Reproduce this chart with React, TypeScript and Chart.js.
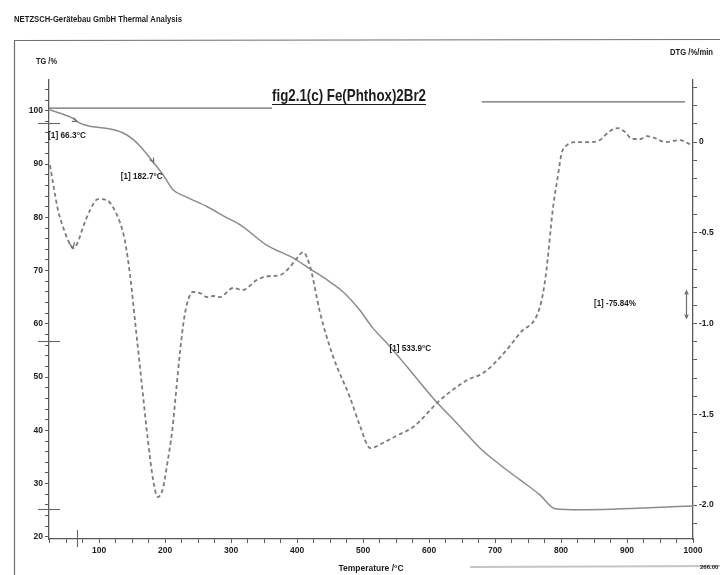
import React, { useEffect, useRef } from 'react';
import { Chart, registerables } from 'chart.js';

Chart.register(...registerables);

// ---- data ----
const tgTemperatures = [25, 59, 71, 83, 117, 136, 152, 167, 182, 197, 212, 233, 264, 294, 314, 354, 394, 420, 445, 470, 495, 515, 536, 567, 606, 647, 677, 708, 738, 768, 791, 829, 1000];
const tgValues = [100.2, 98.7, 97.7, 97.2, 96.6, 95.9, 94.6, 92.7, 90.4, 88.0, 85.2, 83.8, 82.0, 79.9, 78.6, 74.8, 72.4, 70.3, 68.3, 66.0, 62.6, 59.2, 56.4, 51.9, 46.1, 40.7, 36.7, 33.5, 30.7, 27.9, 25.3, 25.1, 25.8];

const dtgTemperatures = [25.8, 30.3, 37.9, 45.5, 53, 60.6, 68, 75.8, 86.4, 98.5, 112, 121, 132, 139, 147, 156, 165, 174, 182, 189, 197, 203, 211, 217, 223, 229, 235, 242, 253, 264, 273, 283, 303, 318, 339, 359, 374, 389, 400, 409, 420, 435, 455, 480, 495, 511, 530, 553, 576, 617, 658, 682, 708, 738, 768, 777, 788, 795, 801, 809, 824, 844, 859, 874, 886, 897, 908, 920, 930, 942, 958, 970, 980, 992, 998];
const dtgValues = [-0.127, -0.226, -0.375, -0.468, -0.54, -0.584, -0.551, -0.468, -0.375, -0.314, -0.32, -0.358, -0.446, -0.54, -0.733, -1.036, -1.339, -1.642, -1.862, -1.956, -1.906, -1.78, -1.587, -1.366, -1.146, -0.97, -0.87, -0.826, -0.832, -0.854, -0.848, -0.854, -0.804, -0.815, -0.76, -0.738, -0.733, -0.689, -0.639, -0.606, -0.689, -0.942, -1.185, -1.405, -1.559, -1.686, -1.658, -1.614, -1.57, -1.421, -1.311, -1.273, -1.185, -1.052, -0.909, -0.733, -0.358, -0.193, -0.061, -0.017, 0, 0, 0.011, 0.061, 0.077, 0.055, 0.017, 0.017, 0.033, 0.022, 0, 0.006, 0.011, -0.006, -0.017];

// horizontal reference lines (TG axis)
const refLineATemps = [24.2, 362];
const refLineAValues = [100.5, 100.5];
const refLineBTemps = [680, 988];
const refLineBValues = [101.7, 101.7];

// axes
const tempMajorTicks = [100, 200, 300, 400, 500, 600, 700, 800, 900, 1000];
const tempMinorTicks = [25, 50, 75, 125, 150, 175, 225, 250, 275, 325, 350, 375, 425, 450, 475, 525, 550, 575, 625, 650, 675, 725, 750, 775, 825, 850, 875, 925, 950, 975];
const tgMajorTicks = [20, 30, 40, 50, 60, 70, 80, 90, 100];
const tgMinorTicks = [22, 24, 26, 28, 32, 34, 36, 38, 42, 44, 46, 48, 52, 54, 56, 58, 62, 64, 66, 68, 72, 74, 76, 78, 82, 84, 86, 88, 92, 94, 96, 98, 102, 104];
const dtgMajorTicks = [0, -0.5, -1.0, -1.5, -2.0];
const dtgMajorLabels = ['0', '-0.5', '-1.0', '-1.5', '-2.0'];
const dtgMinorTicks = [0.3, 0.2, 0.1, -0.1, -0.2, -0.3, -0.4, -0.6, -0.7, -0.8, -0.9, -1.1, -1.2, -1.3, -1.4, -1.6, -1.7, -1.8, -1.9, -2.1];

// step markers and annotations
const tgStepMarkers = [97.7, 56.8, 25.3];
const tempStepMarker = 66.3;
const annotationTexts = ['[1] 66.3°C', '[1] 182.7°C', '[1] 533.9°C', '[1] -75.84%'];
const annotationTemps = [22.7, 133, 540, 850];
const annotationTG = [95.3, 87.7, 55.3, 0];
const annotationDTG = [0, 0, 0, -0.89];

const FONT_FAMILY = '"Liberation Sans", Arial, "DejaVu Sans", sans-serif';
const TEXT = '#1c1c1c';
const AXIS = '#5a5a5a';

const near = (a: number, b: number) => Math.abs(a - b) < 1e-6;

const overlayPlugin = {
  id: 'overlay',
  afterDraw(chart: any) {
    const ctx: CanvasRenderingContext2D = chart.ctx;
    const xs = chart.scales.x;
    const yl = chart.scales.yTG;
    const yr = chart.scales.yDTG;
    ctx.save();
    const txt = (t: string, px: number, py: number, size: number, maxW: number, weight = 'bold', align: CanvasTextAlign = 'left') => {
      ctx.font = `${weight} ${size}px ${FONT_FAMILY}`;
      ctx.fillStyle = TEXT;
      ctx.textAlign = align;
      ctx.textBaseline = 'middle';
      ctx.fillText(t, px, py, maxW);
    };

    // frame
    ctx.strokeStyle = '#707070';
    ctx.lineWidth = 1.2;
    ctx.beginPath();
    ctx.moveTo(14, 40.5);
    ctx.lineTo(720, 39.5);
    ctx.moveTo(14.5, 40);
    ctx.lineTo(14.5, 575);
    ctx.stroke();
    ctx.strokeStyle = '#c4c4c4';
    ctx.lineWidth = 2;
    ctx.beginPath();
    ctx.moveTo(470, 567);
    ctx.lineTo(720, 566);
    ctx.stroke();

    // header and axis captions
    txt('NETZSCH-Gerätebau GmbH Thermal Analysis', 14, 20, 8.5, 168);
    txt('TG /%', 36, 62, 8.5, 21);
    txt('DTG /%/min', 670, 53, 8.5, 43);
    txt('266.00', 700, 567, 6, 24);

    // title (underlined)
    ctx.font = `bold 17px ${FONT_FAMILY}`;
    ctx.fillStyle = TEXT;
    ctx.textAlign = 'left';
    ctx.textBaseline = 'alphabetic';
    ctx.fillText('fig2.1(c) Fe(Phthox)2Br2', 272, 101, 154);
    ctx.strokeStyle = TEXT;
    ctx.lineWidth = 1.2;
    ctx.beginPath();
    ctx.moveTo(272, 104.5);
    ctx.lineTo(426, 104.5);
    ctx.stroke();

    // annotations
    annotationTexts.forEach((t, i) => {
      const px = xs.getPixelForValue(annotationTemps[i]);
      const py = annotationDTG[i] !== 0 ? yr.getPixelForValue(annotationDTG[i]) : yl.getPixelForValue(annotationTG[i]);
      txt(t, px, py, 8.5, t.length * 3.8);
    });

    // step markers on the TG axis
    ctx.strokeStyle = '#666';
    ctx.lineWidth = 1.1;
    tgStepMarkers.forEach((v) => {
      const py = Math.round(yl.getPixelForValue(v)) + 0.5;
      ctx.beginPath();
      ctx.moveTo(38, py);
      ctx.lineTo(60, py);
      ctx.stroke();
    });
    const mx = Math.round(xs.getPixelForValue(tempStepMarker)) + 0.5;
    ctx.beginPath();
    ctx.moveTo(mx, xs.top - 9);
    ctx.lineTo(mx, xs.top + 8);
    ctx.stroke();

    // arrowheads on TG at step temperatures
    const arrowHead = (px: number, py: number, dx: number, dy: number, len: number) => {
      const a = Math.atan2(dy, dx);
      ctx.beginPath();
      ctx.moveTo(px - len * Math.cos(a - 0.45), py - len * Math.sin(a - 0.45));
      ctx.lineTo(px, py);
      ctx.lineTo(px - len * Math.cos(a + 0.45), py - len * Math.sin(a + 0.45));
      ctx.stroke();
    };
    ctx.strokeStyle = '#707070';
    ctx.lineWidth = 1.2;
    arrowHead(xs.getPixelForValue(66.3), yl.getPixelForValue(98.0), 8, 4, 5);
    arrowHead(xs.getPixelForValue(182.7), yl.getPixelForValue(90.3), 1, 2, 5);
    arrowHead(xs.getPixelForValue(60.6), yr.getPixelForValue(-0.584), 0.2, 1, 6);

    // double arrow near the right axis
    const ax = Math.round(xs.getPixelForValue(989)) + 0.5;
    const ay1 = yr.getPixelForValue(-0.82);
    const ay2 = yr.getPixelForValue(-0.97);
    ctx.beginPath();
    ctx.moveTo(ax, ay1);
    ctx.lineTo(ax, ay2);
    ctx.stroke();
    arrowHead(ax, ay1, 0, -1, 4);
    arrowHead(ax, ay2, 0, 1, 4);

    ctx.restore();
  },
};

const tickFont = { family: FONT_FAMILY, size: 8.5, weight: 'bold' as const };

export default function App() {
  const canvasRef = useRef<HTMLCanvasElement | null>(null);

  useEffect(() => {
    document.body.style.margin = '0';
    const canvas = canvasRef.current;
    if (!canvas) return;

    const chart = new Chart(canvas, {
      type: 'line',
      data: {
        datasets: [
          {
            label: 'DTG',
            data: dtgTemperatures.map((t, i) => ({ x: t, y: dtgValues[i] })),
            yAxisID: 'yDTG',
            borderColor: '#7c7c7c',
            borderWidth: 1.8,
            borderDash: [4, 3],
            pointRadius: 0,
            cubicInterpolationMode: 'monotone',
            fill: false,
          },
          {
            label: 'TG',
            data: tgTemperatures.map((t, i) => ({ x: t, y: tgValues[i] })),
            yAxisID: 'yTG',
            borderColor: '#8c8c8c',
            borderWidth: 1.5,
            pointRadius: 0,
            cubicInterpolationMode: 'monotone',
            fill: false,
          },
          {
            label: 'refA',
            data: refLineATemps.map((t, i) => ({ x: t, y: refLineAValues[i] })),
            yAxisID: 'yTG',
            borderColor: '#6a6a6a',
            borderWidth: 1.3,
            pointRadius: 0,
            fill: false,
          },
          {
            label: 'refB',
            data: refLineBTemps.map((t, i) => ({ x: t, y: refLineBValues[i] })),
            yAxisID: 'yTG',
            borderColor: '#6a6a6a',
            borderWidth: 1.3,
            pointRadius: 0,
            fill: false,
          },
        ],
      },
      options: {
        responsive: false,
        animation: false,
        layout: { padding: { top: 80, left: 0, right: 0, bottom: 0 } },
        plugins: { legend: { display: false }, tooltip: { enabled: false }, title: { display: false } },
        scales: {
          x: {
            type: 'linear',
            min: 24.2,
            max: 1000,
            afterBuildTicks: (s: any) => {
              s.ticks = [...tempMinorTicks, ...tempMajorTicks].sort((a, b) => a - b).map((v) => ({ value: v }));
            },
            afterFit: (s: any) => {
              s.height = 36;
            },
            ticks: {
              autoSkip: false,
              maxRotation: 0,
              padding: 3,
              color: TEXT,
              font: tickFont,
              callback: (v: any) => (tempMajorTicks.some((m) => near(m, v)) ? String(v) : ''),
            },
            grid: { drawOnChartArea: false, tickLength: 4, tickColor: AXIS },
            border: { color: AXIS, width: 1.3 },
            title: {
              display: true,
              text: 'Temperature /°C',
              color: TEXT,
              font: { family: FONT_FAMILY, size: 8.5, weight: 'bold' },
              padding: { top: 0, bottom: 1 },
            },
          },
          yTG: {
            type: 'linear',
            position: 'left',
            min: 19.6,
            max: 105.8,
            afterBuildTicks: (s: any) => {
              s.ticks = [...tgMinorTicks, ...tgMajorTicks].sort((a, b) => a - b).map((v) => ({ value: v }));
            },
            afterFit: (s: any) => {
              s.width = 49;
            },
            ticks: {
              autoSkip: false,
              padding: 2,
              color: TEXT,
              font: tickFont,
              callback: (v: any) => (tgMajorTicks.some((m) => near(m, v)) ? String(v) : ''),
            },
            grid: { drawOnChartArea: false, tickLength: 4, tickColor: AXIS },
            border: { color: AXIS, width: 1.3 },
          },
          yDTG: {
            type: 'linear',
            position: 'right',
            min: -2.187,
            max: 0.342,
            afterBuildTicks: (s: any) => {
              s.ticks = [...dtgMinorTicks, ...dtgMajorTicks].sort((a, b) => a - b).map((v) => ({ value: v }));
            },
            afterFit: (s: any) => {
              s.width = 27;
            },
            ticks: {
              autoSkip: false,
              padding: 2,
              color: TEXT,
              font: tickFont,
              callback: (v: any) => {
                const idx = dtgMajorTicks.findIndex((m) => near(m, v));
                return idx >= 0 ? dtgMajorLabels[idx] : '';
              },
            },
            grid: { drawOnChartArea: false, tickLength: 4, tickColor: AXIS },
            border: { color: AXIS, width: 1.3 },
          },
        },
      },
      plugins: [overlayPlugin],
    } as any);

    return () => {
      chart.destroy();
    };
  }, []);

  return (
    <div style={{ width: 720, height: 575, position: 'relative', background: '#fff' }}>
      <canvas ref={canvasRef} width={720} height={575} style={{ display: 'block' }} />
    </div>
  );
}
